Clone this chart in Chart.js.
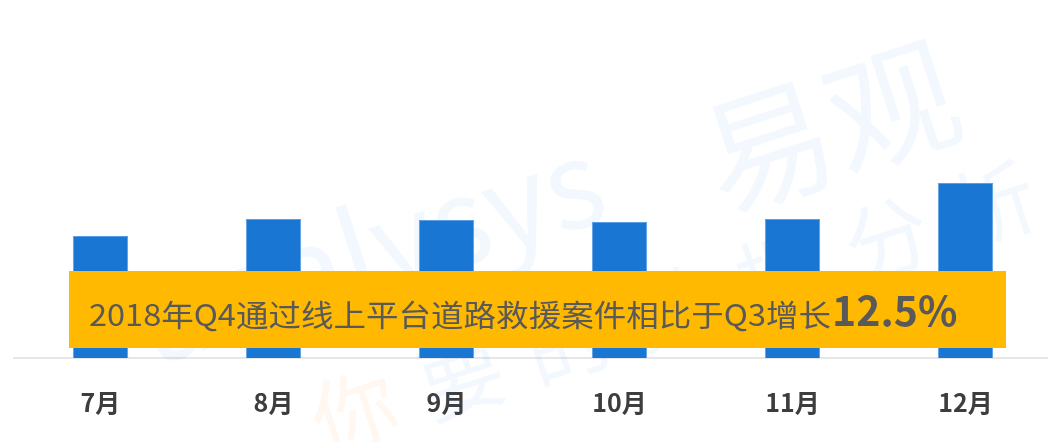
<!DOCTYPE html>
<html>
<head>
<meta charset="utf-8">
<script src="https://cdn.jsdelivr.net/npm/chart.js@4/dist/chart.umd.min.js"></script>
<style>
	html, body { margin: 0; padding: 0; background: #fff; overflow: hidden; }
	#wrap { position: relative; width: 1052px; height: 442px; }
</style>
</head>
<body>
<div id="wrap"><canvas id="caseChart"></canvas></div>
<script>
// Data
const months = ["7月", "8月", "9月", "10月", "11月", "12月"];
const caseCounts = [122, 139, 138, 136, 139, 175];
const bannerText = "2018年Q4通过线上平台道路救援案件相比于Q3增长";
const bannerValue = "12.5%";

const cjk = '"Noto Sans CJK SC", "Noto Sans", sans-serif';

// faint watermark behind the bars
const watermark = {
	id: "watermark",
	beforeDatasetsDraw(chart) {
		const ctx = chart.ctx;
		ctx.save();
		ctx.translate(560, 250);
		ctx.rotate(-18 * Math.PI / 180);
		ctx.textBaseline = "middle";
		ctx.fillStyle = "rgba(30, 140, 220, 0.06)";
		ctx.font = "120px " + cjk;
		ctx.fillText("analysys", -420, -60);
		ctx.font = "130px " + cjk;
		ctx.fillText("易观", 165, -35);
		ctx.font = "85px " + cjk;
		ctx.letterSpacing = "27px";
		ctx.fillStyle = "rgba(255, 140, 40, 0.07)";
		ctx.fillText("你", -288, 90);
		ctx.fillStyle = "rgba(30, 140, 220, 0.06)";
		ctx.fillText("要的数据分析", -288 + 112, 90);
		ctx.restore();
	}
};

// orange banner with the headline
const banner = {
	id: "banner",
	afterDatasetsDraw(chart) {
		const ctx = chart.ctx;
		ctx.save();
		ctx.fillStyle = "#FFB900";
		ctx.fillRect(69, 271, 937, 77);
		ctx.fillStyle = "#595959";
		ctx.textBaseline = "alphabetic";
		ctx.font = "30px " + cjk;
		const w = ctx.measureText(bannerText).width;
		const sx = 742 / w;
		ctx.save();
		ctx.translate(89, 326);
		ctx.scale(sx, 1);
		ctx.fillText(bannerText, 0, 0);
		ctx.restore();
		ctx.font = "bold 41px " + cjk;
		ctx.fillText(bannerValue, 89 + 742 + 1, 326);
		ctx.restore();
	}
};

const ctx = document.getElementById("caseChart").getContext("2d");
new Chart(ctx, {
	type: "bar",
	data: {
		labels: months,
		datasets: [
			{
				data: caseCounts,
				backgroundColor: "#1976D2",
				borderColor: "#5A9FE6",
				borderWidth: 1,
				categoryPercentage: 0.8,
				barPercentage: 0.4,
			},
		],
	},
	options: {
		responsive: true,
		maintainAspectRatio: false,
		animation: false,
		layout: { padding: { left: 14, right: 0, top: 8, bottom: 0 } },
		plugins: {
			legend: { display: false },
			tooltip: { enabled: false },
		},
		scales: {
			x: {
				grid: { display: false },
				border: { color: "#E6E6E6", width: 2 },
				ticks: {
					color: "#3D3D3D",
					padding: 21,
					font: { family: cjk, size: 25, weight: "bold" },
				},
				afterFit(scale) { scale.height = 84; },
			},
			y: {
				display: false,
				min: 0,
				max: 350,
			},
		},
	},
	plugins: [watermark, banner],
});
</script>
</body>
</html>
